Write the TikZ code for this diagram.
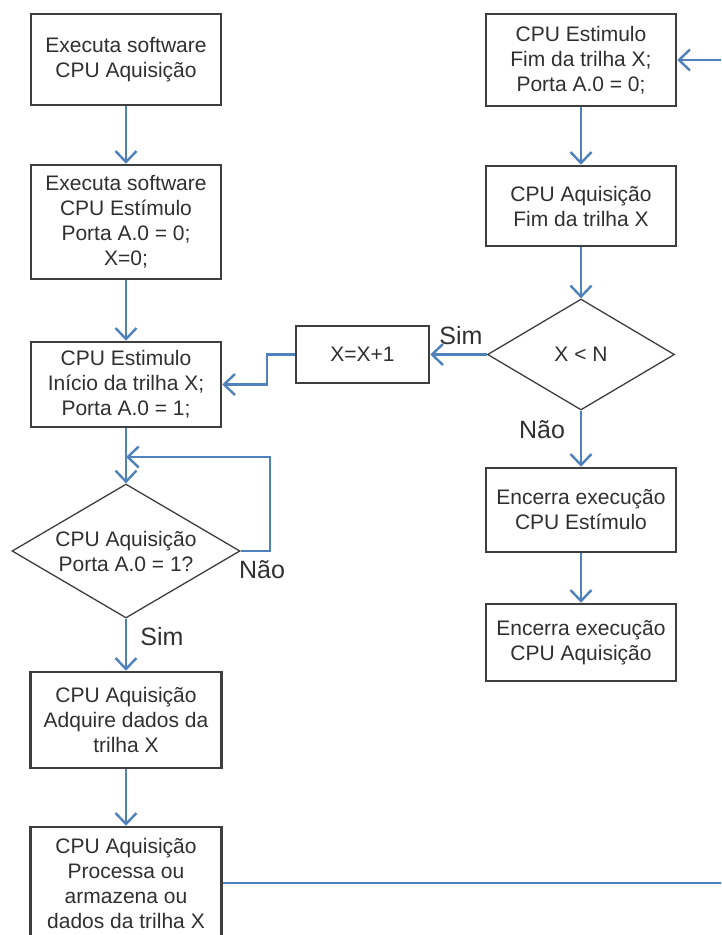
\documentclass[tikz,border=0pt]{standalone}
\usepackage{fontspec}
\setmainfont{Liberation Sans}
\usetikzlibrary{arrows.meta,shapes.geometric}
\definecolor{flow}{RGB}{79,129,189}
\definecolor{ink}{RGB}{48,48,48}
\definecolor{frame}{RGB}{62,62,62}
\begin{document}
\begin{tikzpicture}[x=1pt,y=-1pt,
  procbox/.style={draw=frame, line width=2.5pt, fill=white, align=center,
    inner sep=0pt, text=ink, font=\fontsize{21}{25}\selectfont},
  decision/.style={diamond, draw=frame, line width=1.3pt, fill=white, align=center,
    inner sep=0pt, text=ink, font=\fontsize{21}{25}\selectfont},
  flowline/.style={draw=flow, line width=2.4pt,
    -{Straight Barb[length=11pt,width=21pt]}},
  lbl/.style={inner sep=0pt, text=ink, font=\fontsize{25}{28}\selectfont}]
\useasboundingbox (0,0) rectangle (721,935);
\clip (0,0) rectangle (721,935);

% left column
\node[procbox, minimum width=190pt, minimum height=91pt] (b1) at (126,59.5)
  {Executa software\\CPU Aquisição};
\node[procbox, minimum width=190pt, minimum height=114pt] (b2) at (126,222)
  {Executa software\\CPU Estímulo\\Porta A.0 = 0;\\X=0;};
\node[procbox, minimum width=190pt, minimum height=85pt] (b3) at (126,384.5)
  {CPU Estimulo\\Início da trilha X;\\Porta A.0 = 1;};
\node[decision, aspect=1.7, minimum width=228pt, minimum height=134pt] (d1) at (126,551)
  {CPU Aquisição\\Porta A.0 = 1?};
\node[procbox, minimum width=191pt, minimum height=96pt] (b5) at (126,720)
  {CPU Aquisição\\Adquire dados da\\trilha X};
\node[procbox, minimum width=191pt, minimum height=112pt] (b6) at (126,883)
  {CPU Aquisição\\Processa ou\\armazena ou\\dados da trilha X};

% counter update
\node[procbox, minimum width=133pt, minimum height=57pt] (inc) at (362.5,354.5) {X=X+1};

% right column
\node[procbox, minimum width=190pt, minimum height=92pt] (r1) at (581,60)
  {CPU Estimulo\\Fim da trilha X;\\Porta A.0 = 0;};
\node[procbox, minimum width=190pt, minimum height=80pt] (r2) at (581,206)
  {CPU Aquisição\\Fim da trilha X};
\node[decision, aspect=1.68, minimum width=187pt, minimum height=111pt] (d2) at (581,354.5)
  {X < N};
\node[procbox, minimum width=190pt, minimum height=84pt] (r3) at (581,510)
  {Encerra execução\\CPU Estímulo};
\node[procbox, minimum width=190pt, minimum height=77pt] (r4) at (581,642.5)
  {Encerra execução\\CPU Aquisição};

% connectors
\coordinate (loopin) at (126,457);
\draw[flowline] (b1) -- (b2);
\draw[flowline] (b2) -- (b3);
\draw[flowline] (b3) -- (d1);
\draw[flowline] (d1.east) -| (270,457) -- (loopin);
\draw[flowline] (d1) -- (b5);
\draw[flowline] (b5) -- (b6);
\draw[flowline] (b6.east) -- (745,883) |- (r1.east);
\draw[flowline] (r1) -- (r2);
\draw[flowline] (r2) -- (d2);
\draw[flowline] (d2.west) -- (inc.east);
\draw[flowline] (inc.west) -- ++(-28,0) |- (b3.east);
\draw[flowline] (d2) -- (r3);
\draw[flowline] (r3) -- (r4);

% branch labels
\node[lbl] (s1) at (162,637) {Sim};
\node[lbl] (n1) at (262,570) {Não};
\node[lbl] (s2) at (461,336) {Sim};
\node[lbl] (n2) at (542,430) {Não};
\end{tikzpicture}
\end{document}
